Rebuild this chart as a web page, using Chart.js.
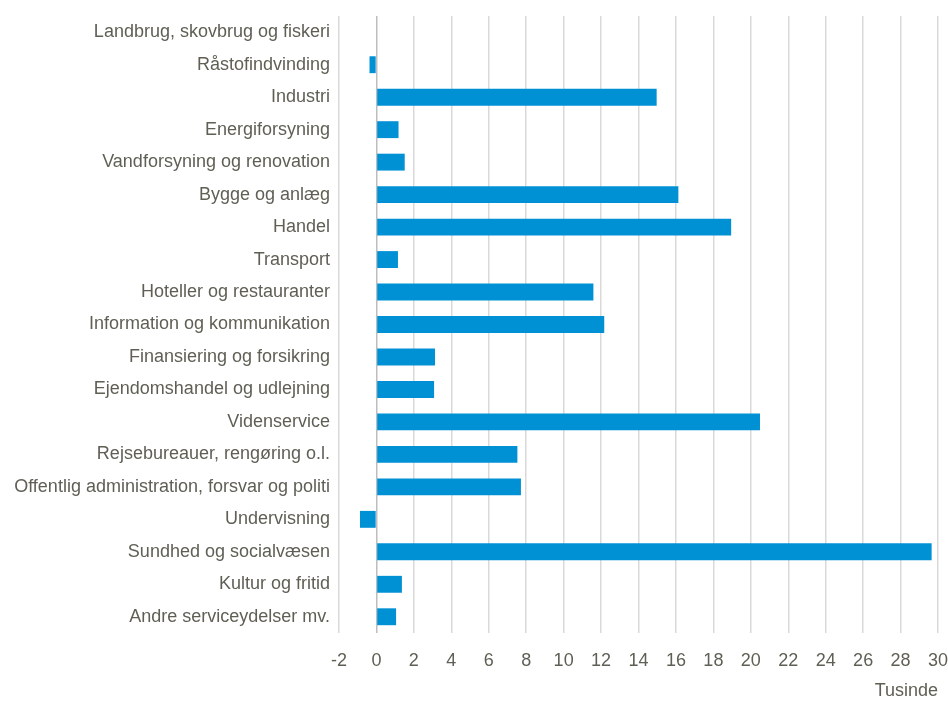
<!DOCTYPE html>
<html lang="da">
<head>
<meta charset="utf-8">
<title>Beskæftigelse efter branche</title>
<script src="https://cdn.jsdelivr.net/npm/chart.js@4/dist/chart.umd.min.js"></script>
<style>
  html, body { margin: 0; padding: 0; background: #fff; }
  #wrap { width: 948px; height: 702px; }
</style>
</head>
<body>
<div id="wrap"><canvas id="chart" width="948" height="702"></canvas></div>
<script>
// Data (tusinde)
const categories = [
  'Landbrug, skovbrug og fiskeri',
  'Råstofindvinding',
  'Industri',
  'Energiforsyning',
  'Vandforsyning og renovation',
  'Bygge og anlæg',
  'Handel',
  'Transport',
  'Hoteller og restauranter',
  'Information og kommunikation',
  'Finansiering og forsikring',
  'Ejendomshandel og udlejning',
  'Videnservice',
  'Rejsebureauer, rengøring o.l.',
  'Offentlig administration, forsvar og politi',
  'Undervisning',
  'Sundhed og socialvæsen',
  'Kultur og fritid',
  'Andre serviceydelser mv.'
];
const values = [0, -0.37, 14.97, 1.18, 1.51, 16.13, 18.95, 1.15, 11.59, 12.17,
                3.13, 3.08, 20.49, 7.53, 7.72, -0.88, 29.66, 1.36, 1.05];
const xMin = -2;
const xMax = 30;
const xStep = 2;
const unitLabel = 'Tusinde';

const textColor = '#5f5f55';
const fontFamily = "'Liberation Sans Narrow', 'Arial Narrow', 'Liberation Sans', sans-serif";

new Chart(document.getElementById('chart').getContext('2d'), {
  type: 'bar',
  data: {
    labels: categories,
    datasets: [{
      data: values,
      backgroundColor: '#0091d5',
      borderWidth: 0,
      categoryPercentage: 1,
      barPercentage: 0.52
    }]
  },
  options: {
    indexAxis: 'y',
    responsive: false,
    animation: false,
    layout: { padding: { top: 16, right: 10, left: 0, bottom: 0 } },
    plugins: {
      legend: { display: false },
      tooltip: { enabled: false }
    },
    scales: {
      x: {
        min: xMin,
        max: xMax,
        border: { display: false },
        grid: {
          color: ctx => (ctx.tick && ctx.tick.value === 0) ? '#bdbdbd' : '#d9d9d9',
          lineWidth: 1.5,
          drawTicks: false
        },
        ticks: {
          stepSize: xStep,
          padding: 17,
          color: textColor,
          font: { family: fontFamily, size: 18 }
        },
        title: {
          display: true,
          text: unitLabel,
          align: 'end',
          color: textColor,
          padding: 0,
          font: { family: fontFamily, size: 18 }
        },
        afterFit: scale => {
          scale.height = 69;
          scale.paddingLeft = 0;
          scale.paddingRight = 0;
        }
      },
      y: {
        border: { display: false },
        grid: { display: false, drawTicks: false },
        ticks: {
          padding: 9,
          color: textColor,
          autoSkip: false,
          font: { family: fontFamily, size: 18 }
        },
        afterFit: scale => {
          scale.width = 339;
          scale.paddingTop = 0;
          scale.paddingBottom = 0;
        }
      }
    }
  }
});
</script>
</body>
</html>
